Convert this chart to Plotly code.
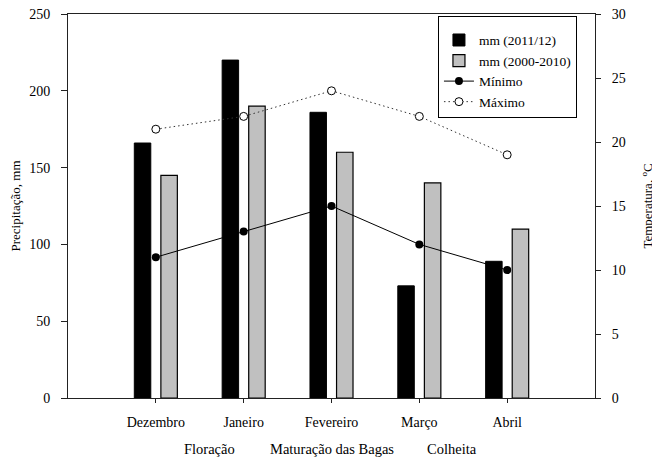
import plotly.graph_objects as go

months = ["Dezembro", "Janeiro", "Fevereiro", "Março", "Abril"]
rain_2011_12 = [166, 220, 186, 73, 89]
rain_2000_2010 = [145, 190, 160, 140, 110]
temp_min = [11, 13, 15, 12, 10]
temp_max = [21, 22, 24, 22, 19]
stages = ["Floração", "Maturação das Bagas", "Colheita"]
stage_pos = [0.61, 2.01, 3.37]
left_ticks = [0, 50, 100, 150, 200, 250]
right_ticks = [0, 5, 10, 15, 20, 25, 30]

FONT = "Liberation Serif, Times New Roman, serif"

fig = go.Figure()
fig.add_bar(x=months, y=rain_2011_12, name="mm (2011/12)",
            marker=dict(color="black", line=dict(color="black", width=1)))
fig.add_bar(x=months, y=rain_2000_2010, name="mm (2000-2010)",
            marker=dict(color="#c0c0c0", line=dict(color="black", width=1.2)))
fig.add_scatter(x=months, y=temp_min, yaxis="y2", name="Mínimo", mode="lines+markers",
                line=dict(color="black", width=1),
                marker=dict(color="black", size=8))
fig.add_scatter(x=months, y=temp_max, yaxis="y2", name="Máximo", mode="lines+markers",
                line=dict(color="#333333", width=1, dash="1.5px,3px"),
                marker=dict(color="white", size=8, line=dict(color="black", width=1)))

for s, p in zip(stages, stage_pos):
    fig.add_annotation(text=s, x=p, xref="x", y=-0.133, yref="paper",
                       showarrow=False, yanchor="middle", xanchor="center",
                       font=dict(size=14.5, family=FONT, color="black"))

axis_common = dict(showline=True, linecolor="#222222", linewidth=1, showgrid=False,
                   zeroline=False, ticks="outside", tickcolor="#222222", tickwidth=1,
                   automargin=False, ticklabeloverflow="allow",
                   tickfont=dict(size=14, family=FONT, color="black"))

fig.update_layout(
    width=652, height=451,
    margin=dict(l=60, r=65, t=6, b=61),
    paper_bgcolor="white", plot_bgcolor="white",
    font=dict(family=FONT, size=13, color="black"),
    barmode="group", bargap=0.395, bargroupgap=0.38,
    xaxis=dict(type="category", range=[-1, 5], mirror=True, ticklen=4,
               ticklabelstandoff=7, **axis_common),
    yaxis=dict(range=[0, 250], tickvals=left_ticks, ticklen=6, ticklabelstandoff=8,
               title=dict(text="Precipitação, mm", font=dict(size=13, family=FONT), standoff=14),
               **axis_common),
    yaxis2=dict(range=[0, 30], tickvals=right_ticks, overlaying="y", side="right",
                ticklen=5, ticklabelstandoff=8,
                title=dict(text="Temperatura, <sup>o</sup>C", font=dict(size=13, family=FONT), standoff=18),
                **axis_common),
    legend=dict(x=0.702, y=0.995, xanchor="left", yanchor="top",
                bordercolor="black", borderwidth=1, bgcolor="white",
                font=dict(size=13.5, family=FONT), tracegroupgap=0, traceorder="normal",
                title=dict(text=" ", font=dict(size=6, family=FONT))),
    showlegend=True,
)

fig.write_html("out.html")
